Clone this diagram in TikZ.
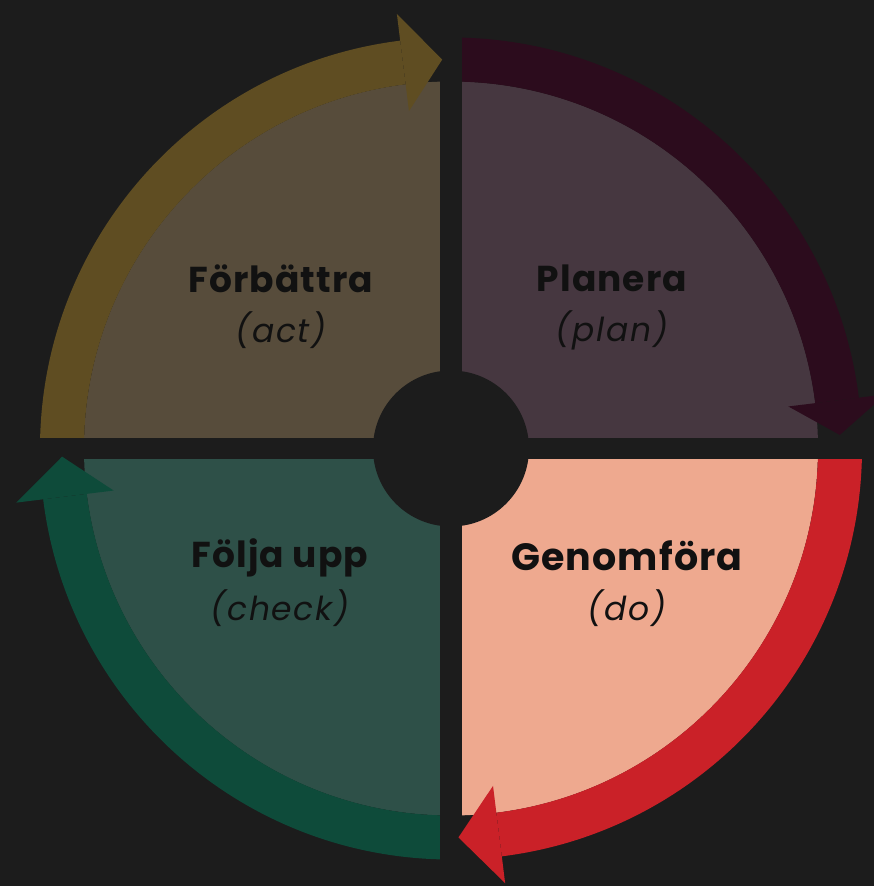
\documentclass[tikz,border=0pt]{standalone}
\usepackage{fontspec}
\setmainfont{Poppins}
\newfontfamily\titlefont[LetterSpace=3]{Poppins Bold}
\newfontfamily\subfont[LetterSpace=5]{Poppins Italic}
\definecolor{bg}{HTML}{1C1C1C}
\definecolor{actfill}{HTML}{574C3B}
\definecolor{actband}{HTML}{5F4D22}
\definecolor{planfill}{HTML}{463740}
\definecolor{planband}{HTML}{2C0C1D}
\definecolor{dofill}{HTML}{EEA98F}
\definecolor{doband}{HTML}{CA2128}
\definecolor{checkfill}{HTML}{2E5048}
\definecolor{checkband}{HTML}{0E4B3A}
\definecolor{txt}{HTML}{111111}
\tikzset{
  titlelabel/.style={inner sep=0pt, anchor=base, text=txt, font=\titlefont\fontsize{36}{40}\selectfont},
  sublabel/.style={inner sep=0pt, anchor=base, text=txt, font=\subfont\fontsize{33}{38}\selectfont},
}
\def\Ro{411}
\def\Ri{367}
\def\Rm{389}
\def\Ah{49}
% #1 fill colour, #2 band colour, #3 start axis angle, #4 arrow base angle, #5 tip angle, #6 clip corner x, #7 clip corner y, #8 quadrant end axis angle
\newcommand{\pdcaquad}[8]{%
  \begin{scope}
    \clip (11*#6,11*#7) rectangle (470*#6,470*#7);
    \fill[#1] (0,0) -- (#3:\Ri) arc[start angle=#3,end angle=#8,radius=\Ri] -- cycle;
    \fill[#2] (#3:\Ro) arc[start angle=#3,end angle=#4,radius=\Ro] -- (#4:\Ri) arc[start angle=#4,end angle=#3,radius=\Ri] -- cycle;
  \end{scope}
  \fill[#2] (#4:\Rm+\Ah) -- (#5:\Rm) -- (#4:\Rm-\Ah) -- cycle;
}
\begin{document}
\begin{tikzpicture}[x=1pt,y=1pt]
\fill[bg] (-451,-437.5) rectangle (423,448.5);
\useasboundingbox (-451,-437.5) rectangle (423,448.5);
% act (top left)
\pdcaquad{actfill}{actband}{180}{97.1}{91.3}{-1}{1}{90}
% plan (top right)
\pdcaquad{planfill}{planband}{90}{7.1}{2.0}{1}{1}{0}
% do (bottom right)
\pdcaquad{dofill}{doband}{0}{-82.9}{-88.9}{1}{-1}{-90}
% check (bottom left)
\pdcaquad{checkfill}{checkband}{-90}{-172.9}{-178.8}{-1}{-1}{-180}
% centre hole
\fill[bg] (0,0) circle (78);
% labels
\node[titlelabel] (actT) at (-170,155.5) {Förbättra};
\node[sublabel] (actS) at (-170,105.5) {(act)};
\node[titlelabel] (planT) at (161,156.5) {Planera};
\node[sublabel] (planS) at (161,106.5) {(plan)};
\node[titlelabel] (checkT) at (-171,-118.5) {Följa upp};
\node[sublabel] (checkS) at (-171,-171.5) {(check)};
\node[titlelabel, font=\titlefont\fontsize{38}{42}\selectfont] (doT) at (176,-121.5) {Genomföra};
\node[sublabel] (doS) at (176,-171.5) {(do)};
\end{tikzpicture}
\end{document}
